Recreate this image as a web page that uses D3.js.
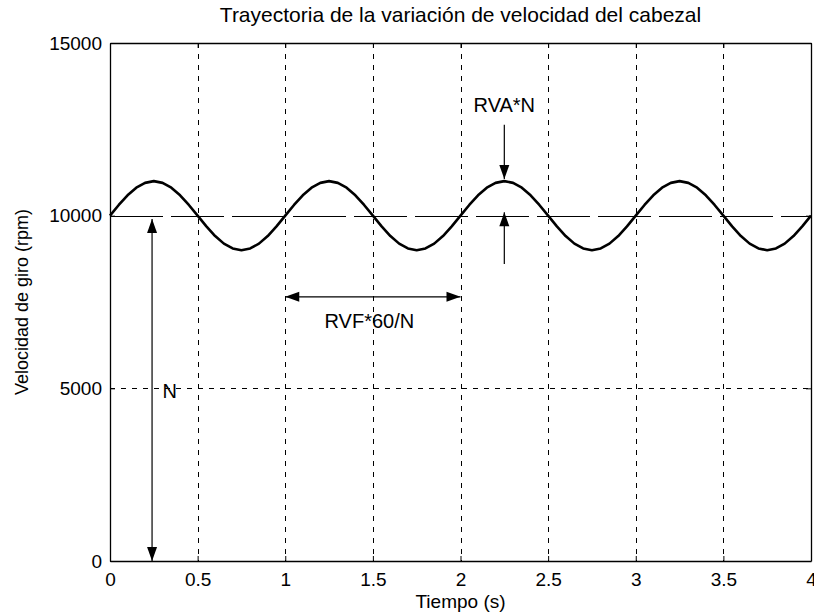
<!DOCTYPE html>
<html>
<head>
<meta charset="utf-8">
<script src="https://cdn.jsdelivr.net/npm/d3@7"></script>
<style>
  html, body { margin: 0; padding: 0; background: #fff; }
  svg { display: block; font-family: "Liberation Sans", Arial, sans-serif; }
</style>
</head>
<body>
<svg id="chart" width="814" height="614"></svg>
<script>
// ---- data ----
const title = "Trayectoria de la variación de velocidad del cabezal";
const xLabel = "Tiempo (s)";
const yLabel = "Velocidad de giro (rpm)";
const xTicks = [0, 0.5, 1, 1.5, 2, 2.5, 3, 3.5, 4];
const xTickLabels = ["0", "0.5", "1", "1.5", "2", "2.5", "3", "3.5", "4"];
const yTicks = [0, 5000, 10000, 15000];
const yTickLabels = ["0", "5000", "10000", "15000"];
// time samples (s)
const time = [
  0.00,0.05,0.10,0.15,0.20,0.25,0.30,0.35,0.40,0.45,
  0.50,0.55,0.60,0.65,0.70,0.75,0.80,0.85,0.90,0.95,
  1.00,1.05,1.10,1.15,1.20,1.25,1.30,1.35,1.40,1.45,
  1.50,1.55,1.60,1.65,1.70,1.75,1.80,1.85,1.90,1.95,
  2.00,2.05,2.10,2.15,2.20,2.25,2.30,2.35,2.40,2.45,
  2.50,2.55,2.60,2.65,2.70,2.75,2.80,2.85,2.90,2.95,
  3.00,3.05,3.10,3.15,3.20,3.25,3.30,3.35,3.40,3.45,
  3.50,3.55,3.60,3.65,3.70,3.75,3.80,3.85,3.90,3.95,
  4.00
];
// spindle speed (rpm)
const speed = [
  10000,10310,10590,10810,10950,11000,10950,10810,10590,10310,
  10000,9690,9410,9190,9050,9000,9050,9190,9410,9690,
  10000,10310,10590,10810,10950,11000,10950,10810,10590,10310,
  10000,9690,9410,9190,9050,9000,9050,9190,9410,9690,
  10000,10310,10590,10810,10950,11000,10950,10810,10590,10310,
  10000,9690,9410,9190,9050,9000,9050,9190,9410,9690,
  10000,10310,10590,10810,10950,11000,10950,10810,10590,10310,
  10000,9690,9410,9190,9050,9000,9050,9190,9410,9690,
  10000
];
const nominalSpeed = 10000;
// annotation arrows
const arrowStartT = [0.24, 1.00, 2.25, 2.25];
const arrowStartV = [9900, 7650, 12630, 8600];
const arrowEndT   = [0.24, 2.00, 2.25, 2.25];
const arrowEndV   = [0, 7650, 11060, 10100];
const arrowBoth   = [true, true, false, false];
const annoText = ["N", "RVF*60/N", "RVA*N"];
const annoT    = [0.30, 1.48, 2.25];
const annoV    = [4720, 6750, 13000];
const annoAnchor = ["start", "middle", "middle"];

// ---- layout ----
const svg = d3.select("#chart");
const L = 110, R = 811, T = 43, B = 561;
const x = d3.scaleLinear().domain([0, 4]).range([L, R]);
const y = d3.scaleLinear().domain([0, 15000]).range([B, T]);
const fs = 19;

// grid
const grid = svg.append("g").attr("stroke", "#000").attr("stroke-width", 1)
  .attr("stroke-dasharray", "5,6").attr("shape-rendering", "crispEdges");
xTicks.filter(d => d > 0 && d < 4).forEach(d => {
  grid.append("line").attr("x1", Math.round(x(d)) + 0.5).attr("x2", Math.round(x(d)) + 0.5)
    .attr("y1", y(15000)).attr("y2", y(0));
});
yTicks.filter(d => d > 0 && d < 15000 && d !== nominalSpeed).forEach(d => {
  grid.append("line").attr("y1", Math.round(y(d)) + 0.5).attr("y2", Math.round(y(d)) + 0.5)
    .attr("x1", x(0)).attr("x2", x(4));
});

// nominal speed line (long dash)
svg.append("line")
  .attr("x1", x(0)).attr("x2", x(4))
  .attr("y1", Math.round(y(nominalSpeed)) + 0.5).attr("y2", Math.round(y(nominalSpeed)) + 0.5)
  .attr("stroke", "#000").attr("stroke-width", 1)
  .attr("stroke-dasharray", "53,8").attr("shape-rendering", "crispEdges");

// axes (box)
const xAxis = d3.axisBottom(x).tickValues(xTicks).tickFormat((d, i) => xTickLabels[i])
  .tickSizeInner(-5).tickSizeOuter(0).tickPadding(12);
const yAxis = d3.axisLeft(y).tickValues(yTicks).tickFormat((d, i) => yTickLabels[i])
  .tickSizeInner(-5).tickSizeOuter(0).tickPadding(8);
const gx = svg.append("g").attr("transform", `translate(0,${B})`).call(xAxis);
const gy = svg.append("g").attr("transform", `translate(${L},0)`).call(yAxis);
const gx2 = svg.append("g").attr("transform", `translate(0,${T})`)
  .call(d3.axisTop(x).tickValues(xTicks).tickFormat("").tickSizeInner(-5).tickSizeOuter(0));
const gy2 = svg.append("g").attr("transform", `translate(${R},0)`)
  .call(d3.axisRight(y).tickValues(yTicks).tickFormat("").tickSizeInner(-5).tickSizeOuter(0));
[gx, gy, gx2, gy2].forEach(g => {
  g.select(".domain").attr("stroke", "#000").attr("stroke-width", 1.3);
  g.selectAll(".tick line").attr("stroke", "#000");
  g.selectAll("text").attr("font-size", fs).attr("fill", "#000")
    .attr("font-family", "'Liberation Sans', Arial, sans-serif");
});

// curve
const line = d3.line().x((d, i) => x(time[i])).y(d => y(d));
svg.append("path").datum(speed)
  .attr("d", line).attr("fill", "none").attr("stroke", "#000")
  .attr("stroke-width", 2.6).attr("stroke-linejoin", "round");

// arrows
function head(px, py, dx, dy) {
  const len = Math.hypot(dx, dy), ux = dx / len, uy = dy / len;
  const hl = 14, hw = 5;
  const bx = px - ux * hl, by = py - uy * hl;
  return `M${px},${py}L${bx - uy * hw},${by + ux * hw}L${bx + uy * hw},${by - ux * hw}Z`;
}
const ag = svg.append("g");
arrowStartT.forEach((t, i) => {
  const x1 = x(t), y1 = y(arrowStartV[i]), x2 = x(arrowEndT[i]), y2 = y(arrowEndV[i]);
  ag.append("line").attr("x1", x1).attr("y1", y1).attr("x2", x2).attr("y2", y2)
    .attr("stroke", "#000").attr("stroke-width", 1.2);
  ag.append("path").attr("d", head(x2, y2, x2 - x1, y2 - y1)).attr("fill", "#000");
  if (arrowBoth[i]) ag.append("path").attr("d", head(x1, y1, x1 - x2, y1 - y2)).attr("fill", "#000");
});
annoText.forEach((s, i) => {
  svg.append("text").attr("x", x(annoT[i])).attr("y", y(annoV[i]))
    .attr("text-anchor", annoAnchor[i]).attr("font-size", 20).text(s);
});

// titles
svg.append("text").attr("x", (L + R) / 2).attr("y", 22).attr("text-anchor", "middle")
  .attr("font-size", 21).text(title);
svg.append("text").attr("x", (L + R) / 2).attr("y", 608).attr("text-anchor", "middle")
  .attr("font-size", fs).text(xLabel);
svg.append("text").attr("transform", `translate(28,${(T + B) / 2}) rotate(-90)`)
  .attr("text-anchor", "middle").attr("font-size", 18).text(yLabel);
</script>
</body>
</html>
